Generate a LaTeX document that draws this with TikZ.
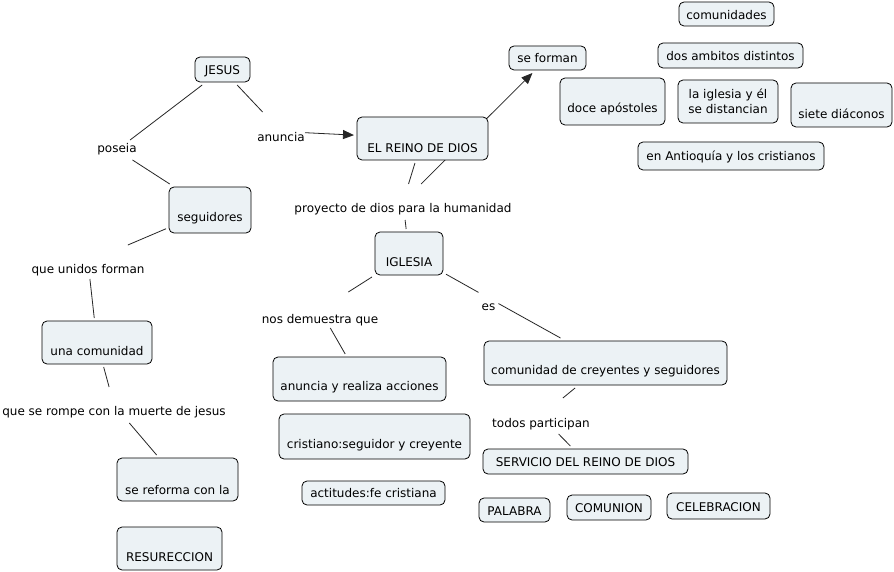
\documentclass[tikz,border=0pt]{standalone}
\usepackage{fontspec}
\setmainfont{DejaVu Sans}
\usetikzlibrary{arrows.meta}
\pgfdeclarelayer{bg}
\pgfsetlayers{bg,main}
\definecolor{boxfill}{RGB}{236,242,245}
\newcommand\mycpt[6]{\node[cbox, minimum width=#3pt, minimum height=#4pt] (#1) at (#2) {\raisebox{-#5pt}[0pt][0pt]{#6}};}
\newcommand\mylab[6]{\node[lbl, minimum width=#3pt, minimum height=#4pt] (#1) at (#2) {\raisebox{-#5pt}[0pt][0pt]{#6}};}
\begin{document}
\begin{tikzpicture}[x=1pt,y=-1pt,
  cbox/.style={draw=black, line width=0.8pt, fill=boxfill, rounded corners=5pt, inner sep=0pt, outer sep=3pt, font=\fontsize{12pt}{15pt}\selectfont},
  lbl/.style={inner sep=0pt, outer sep=0pt, font=\fontsize{12pt}{15pt}\selectfont},
  link/.style={draw=black!85, line width=0.8pt},
  arr/.style={link, -{Triangle[length=11pt,width=9pt]}}]
\useasboundingbox (0,0) rectangle (894,572);
% concepts
\mycpt{jesus}{222.5,69.5}{55}{25}{4.8}{JESUS}
\mycpt{seforman}{547.5,58}{77}{24}{4.5}{se forman}
\mycpt{reino}{422.5,138.5}{131}{43}{14.5}{EL REINO DE DIOS}
\mycpt{iglesia}{409,253.5}{68}{43}{13}{IGLESIA}
\mycpt{seguidores}{210,210}{82}{46}{11.5}{seguidores}
\mycpt{comunidades}{726.5,14}{95}{24}{5.3}{comunidades}
\mycpt{ambitos}{730.5,55.5}{145}{25}{5.5}{dos ambitos distintos}
\mycpt{doce}{612.5,101.5}{105}{47}{11}{doce apóstoles}
\node[cbox, minimum width=100pt, minimum height=43pt, align=center] (laiglesia) at (728,101.5) {la iglesia y él\\se distancian};
\mycpt{siete}{841.5,105}{101}{44}{13.5}{siete diáconos}
\mycpt{antioquia}{731,156}{186}{28}{5}{en Antioquía y los cristianos}
\mycpt{unacom}{97,342.5}{110}{43}{13}{una comunidad}
\mycpt{reforma}{177.5,479.5}{121}{43}{14.5}{se reforma con la}
\mycpt{resu}{169.5,548.5}{105}{43}{13}{RESURECCION}
\mycpt{anunciaacc}{359.5,379}{173}{44}{11}{anuncia y realiza acciones}
\mycpt{cristiano}{374.5,436.5}{191}{45}{11.5}{cristiano:seguidor y creyente}
\mycpt{actitudes}{373.5,493}{143}{24}{4}{actitudes:fe cristiana}
\mycpt{comcre}{605.5,363}{243}{44}{11}{comunidad de creyentes y seguidores}
\mycpt{servicio}{585.5,461.5}{205}{25}{5}{SERVICIO DEL REINO DE DIOS}
\mycpt{palabra}{514.5,510}{71}{24}{5}{PALABRA}
\mycpt{comunion}{609,507.5}{84}{25}{5.2}{COMUNION}
\mycpt{celebracion}{718.5,506}{103}{26}{5}{CELEBRACION}
% linking phrases
\mylab{poseia}{117,150}{44}{20}{3}{poseia}
\mylab{anuncia}{281,131.5}{48}{39}{10.5}{anuncia}
\mylab{proyecto}{403,202}{222}{36}{10.5}{proyecto de dios para la humanidad}
\mylab{unidos}{88,262}{118}{34}{11}{que unidos forman}
\mylab{demuestra}{320,310}{121}{36}{13}{nos demuestra que}
\mylab{es}{488.5,298}{20}{32}{12}{es}
\mylab{rompe}{114,405}{231}{36}{10}{que se rompe con la muerte de jesus}
\mylab{todos}{541,416}{102}{36}{11}{todos participan}
% connectors
\begin{pgfonlayer}{bg}
\fill[white] (0,0) rectangle (894,572);
\draw[link] (jesus) -- (poseia);
\draw[link] (poseia) -- (seguidores);
\draw[link] (jesus) -- (anuncia);
\draw[arr] (anuncia) -- (reino);
\draw[link] (reino) -- (proyecto);
\draw[arr] (proyecto) -- (seforman);
\draw[link] (proyecto) -- (iglesia);
\draw[link] (seguidores) -- (unidos);
\draw[link] (unidos) -- (unacom);
\draw[link] (unacom) -- (rompe);
\draw[link] (rompe) -- (reforma);
\draw[link] (iglesia) -- (demuestra);
\draw[link] (demuestra) -- (anunciaacc);
\draw[link] (iglesia) -- (es);
\draw[link] (es) -- (comcre);
\draw[link] (comcre) -- (todos);
\draw[link] (todos) -- (servicio);
\end{pgfonlayer}
\end{tikzpicture}
\end{document}
